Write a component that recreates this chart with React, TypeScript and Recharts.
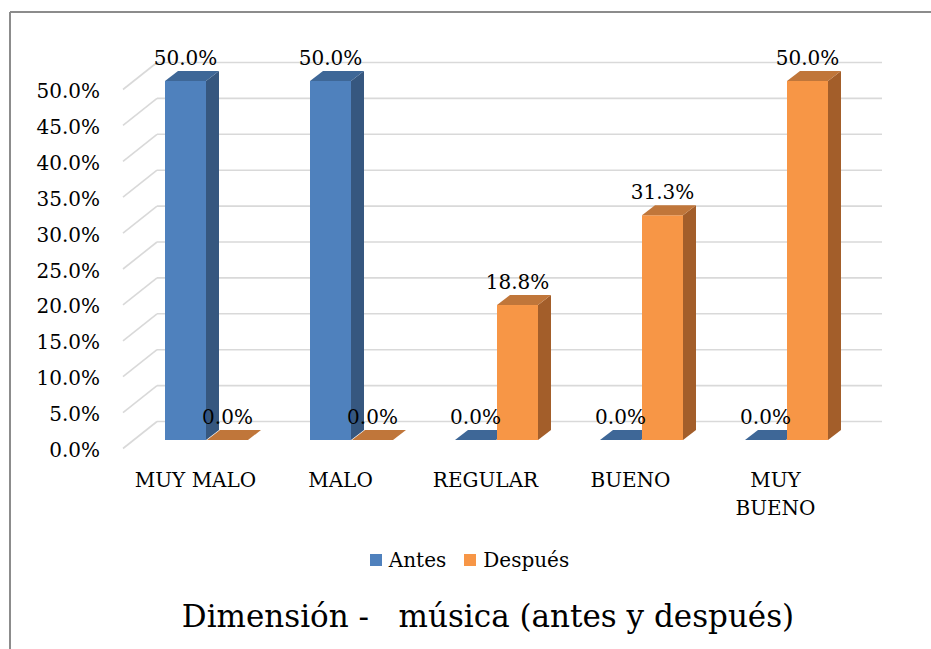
import { BarChart, Bar, XAxis, YAxis, CartesianGrid, LabelList, Legend } from "recharts";

const categories = ["MUY MALO", "MALO", "REGULAR", "BUENO", "MUY BUENO"];
const antes = [50.0, 50.0, 0.0, 0.0, 0.0];
const despues = [0.0, 0.0, 18.8, 31.3, 50.0];
const yTicks = [0, 5, 10, 15, 20, 25, 30, 35, 40, 45, 50];

const data = categories.map((name, i) => ({
  name,
  antes: antes[i],
  despues: despues[i],
}));

const FONT = '"DejaVu Serif", serif';
const W = 931;
const H = 649;

// fake 3d: bar plane -> front axis / back wall / bar depth
const FRONT = { dx: -11, dy: 8.5 };
const BACK = { dx: 23, dy: -18.5 };
const DEPTH = { dx: 13, dy: -10 };

const BLUE = { front: "#4f81bd", side: "#36577f", top: "#3e6797" };
const ORANGE = { front: "#f79646", side: "#a35e2a", top: "#c0763a" };

function Box3D(props: any) {
  const { x, y, width, height, colors } = props;
  const r = x + width;
  const b = y + height;
  const { dx, dy } = DEPTH;
  return (
    <g>
      <rect x={x} y={y} width={width} height={height} fill={colors.front} />
      <polygon
        points={`${r},${y} ${r + dx},${y + dy} ${r + dx},${b + dy} ${r},${b}`}
        fill={colors.side}
      />
      <polygon
        points={`${x},${y} ${x + dx},${y + dy} ${r + dx},${y + dy} ${r},${y}`}
        fill={colors.top}
      />
    </g>
  );
}

const gridLine = (p: any) => {
  const { x1, x2, y1, index } = p;
  return (
    <g key={index} stroke="#d9d9d9" strokeWidth={1.6}>
      <line x1={x1 + FRONT.dx} y1={y1 + FRONT.dy} x2={x1 + BACK.dx} y2={y1 + BACK.dy} />
      <line x1={x1 + BACK.dx} y1={y1 + BACK.dy} x2={x2 + BACK.dx} y2={y1 + BACK.dy} />
    </g>
  );
};

const YTick = (p: any) => (
  <text
    x={p.x + FRONT.dx - 15}
    y={p.y + 10}
    textAnchor="end"
    dominantBaseline="central"
    fontFamily={FONT}
    fontSize={20}
    fill="#000"
  >
    {`${Number(p.payload.value).toFixed(1)}%`}
  </text>
);

// long labels wrap onto two lines, as in the original
const XTick = (p: any) => {
  const label: string = p.payload.value;
  const lines = label.length > 8 ? label.split(" ") : [label];
  return (
    <text
      x={p.x + FRONT.dx}
      y={p.y + 32}
      textAnchor="middle"
      fontFamily={FONT}
      fontSize={20}
      fill="#000"
    >
      {lines.map((ln, i) => (
        <tspan key={i} x={p.x + FRONT.dx} dy={i === 0 ? "0.355em" : 28}>
          {ln}
        </tspan>
      ))}
    </text>
  );
};

const barLabel = (p: any) => (
  <text
    x={p.x + p.width / 2}
    y={p.y - 23}
    textAnchor="middle"
    dominantBaseline="central"
    fontFamily={FONT}
    fontSize={20}
    fill="#000"
  >
    {`${Number(p.value).toFixed(1)}%`}
  </text>
);

const legendContent = (p: any) => (
  <div
    style={{
      display: "flex",
      justifyContent: "center",
      alignItems: "center",
      gap: 18,
      fontFamily: FONT,
      fontSize: 20,
      height: 24,
      paddingLeft: 8,
    }}
  >
    {(p.payload || []).map((item: any) => (
      <div key={item.value} style={{ display: "flex", alignItems: "center", gap: 7 }}>
        <span style={{ width: 12, height: 12, background: item.color, display: "inline-block" }} />
        <span>{item.value}</span>
      </div>
    ))}
  </div>
);

export default function App() {
  return (
    <div style={{ position: "absolute", left: 0, top: 0, width: W, height: H, background: "#fff", overflow: "hidden" }}>
      <style>{"html, body { margin: 0; overflow: hidden; }"}</style>
      <svg width={W} height={H} style={{ position: "absolute", left: 0, top: 0 }}>
        <line x1={10} y1={12} x2={W + 10} y2={12} stroke="#8c8c8c" strokeWidth={2} />
        <line x1={10} y1={12} x2={10} y2={H + 10} stroke="#8c8c8c" strokeWidth={2} />
        <text
          x={488}
          y={627}
          textAnchor="middle"
          fontFamily={FONT}
          fontSize={31}
          fill="#000"
          xmlSpace="preserve"
          style={{ whiteSpace: "pre" }}
        >
          Dimensión -   música (antes y después)
        </text>
      </svg>
      <div style={{ position: "absolute", left: 0, top: 0 }}>
        <BarChart
          width={W}
          height={H}
          data={data}
          margin={{ top: 81, right: 72, bottom: 0, left: 0 }}
          barSize={41}
          barGap={1}
        >
          <CartesianGrid vertical={false} horizontal={gridLine} />
          <YAxis
            width={134}
            domain={[0, 50]}
            ticks={yTicks}
            axisLine={false}
            tickLine={false}
            tick={YTick}
          />
          <XAxis dataKey="name" height={209} axisLine={false} tickLine={false} tick={XTick} interval={0} />
          <Legend
            layout="horizontal"
            verticalAlign="middle"
            align="center"
            wrapperStyle={{ top: 548, left: 0, width: W, height: 24 }}
            content={legendContent}
          />
          <Bar
            dataKey="antes"
            name="Antes"
            fill={BLUE.front}
            isAnimationActive={false}
            shape={(p: any) => <Box3D {...p} colors={BLUE} />}
          >
            <LabelList dataKey="antes" content={barLabel} />
          </Bar>
          <Bar
            dataKey="despues"
            name="Después"
            fill={ORANGE.front}
            isAnimationActive={false}
            shape={(p: any) => <Box3D {...p} colors={ORANGE} />}
          >
            <LabelList dataKey="despues" content={barLabel} />
          </Bar>
        </BarChart>
      </div>
    </div>
  );
}
